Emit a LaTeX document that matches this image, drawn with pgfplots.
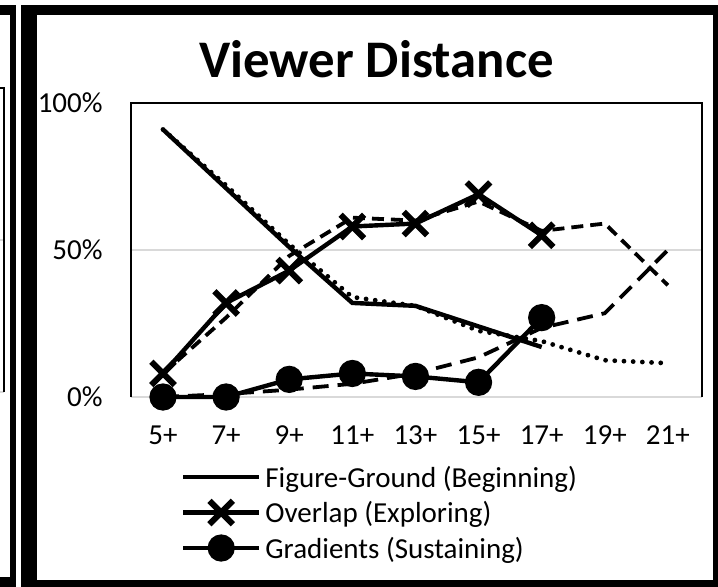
\documentclass[border=0pt]{standalone}
\usepackage{pgfplots}
\pgfplotsset{compat=1.18}
\usepackage{fontspec}
\setmainfont{Carlito}
\definecolor{gridgray}{RGB}{217,217,217}
\begin{document}
\begin{tikzpicture}
\useasboundingbox (0,0) rectangle (359pt,293pt);
\begin{scope}[x=0.5pt,y=-0.5pt,yshift=293pt]
 \fill[white] (0,0) rectangle (718,586);
 % left neighbouring panel (partial)
 \fill[black] (-2,5) rectangle (16,590);
 \fill[white] (-2,15) rectangle (10,577);
 \draw[gridgray, line width=0.65pt] (-2,240) -- (4,240);
 \draw[gridgray, line width=0.65pt] (-2,392) -- (4,392);
 \draw[black, line width=0.65pt] (-2,88) -- (4,88) -- (4,392);
 % main panel frame
 \fill[black] (21,5) rectangle (720,590);
 \fill[white] (37,15) rectangle (713,580);
 \node[anchor=base, inner sep=0pt, font=\fontsize{26.4}{30}\selectfont\bfseries] at (376.5,77) {Viewer Distance};
\end{scope}
\begin{axis}[
  at={(65.5pt,94.5pt)}, anchor=south west,
  scale only axis, width=285.5pt, height=147pt,
  xmin=-0.507, xmax=8.54, ymin=0, ymax=100,
  xtick={0,1,2,3,4,5,6,7,8},
  xticklabels={5+,7+,9+,11+,13+,15+,17+,19+,21+},
  ytick={0,50,100}, yticklabels={0\%,50\%,100\%},
  major tick length=0pt,
  ymajorgrids, grid style={color=gridgray, line width=0.65pt},
  axis line style={draw=none},
  tick label style={font=\fontsize{14.5}{16}\selectfont},
  yticklabel style={anchor=east, inner sep=0pt, xshift=-14pt},
  xticklabel style={anchor=center, inner sep=0pt, yshift=-19pt},
  clip=false,
  legend style={at={(0.0876,-0.2211)}, anchor=north west, draw=none, fill=none,
    inner sep=0pt, outer sep=0pt, row sep=2.75pt,
    font=\fontsize{14.5}{16}\selectfont,
    nodes={inner sep=0pt, text height=12.5pt, text depth=2.5pt},
    /tikz/every odd column/.append style={column sep=2pt}},
  legend cell align=left,
  legend image code/.code={\draw[mark repeat=2, mark phase=2, #1] plot coordinates {(0pt,0pt) (19pt,0pt) (38pt,0pt)};},
]
\draw[black, line width=0.65pt] (rel axis cs:0,0) -- (rel axis cs:0,1) -- (rel axis cs:1,1) -- (rel axis cs:1,0);
% trend lines
\addplot[black, line width=2.4pt, line cap=round, dash pattern=on 0pt off 4.6pt, forget plot]
  coordinates {(0,91) (1,72) (2,52) (3,34) (4,31) (5,22.5) (6,19) (7,12.5) (8,11.5)};
\addplot[black, line width=1.9pt, dash pattern=on 6pt off 3.5pt, forget plot]
  coordinates {(0,8) (1,27) (2,48) (3,61) (4,60) (5,66.5) (6,56.5) (7,59) (8,38)};
\addplot[black, line width=1.9pt, dash pattern=on 8pt off 4.5pt, forget plot]
  coordinates {(0,0) (1,1) (2,2.5) (3,4.5) (4,8) (5,13.5) (6,23.5) (7,28.5) (8,50)};
% series
\addplot[black, line width=2.2pt, no marks]
  coordinates {(0,91) (1,71) (2,51) (3,32) (4,31) (5,24) (6,17)};
\addplot[black, line width=2.2pt, mark=x, mark size=8.3pt, mark options={line width=3pt, solid}]
  coordinates {(0,8) (1,32) (2,43) (3,58) (4,59) (5,69) (6,55)};
\addplot[black, line width=2.2pt, mark=*, mark size=5.7pt, mark options={fill=black, solid}]
  coordinates {(0,0) (1,0) (2,6) (3,8) (4,7) (5,5) (6,27)};
\legend{Figure-Ground (Beginning), Overlap (Exploring), Gradients (Sustaining)}
\end{axis}
\end{tikzpicture}
\end{document}
